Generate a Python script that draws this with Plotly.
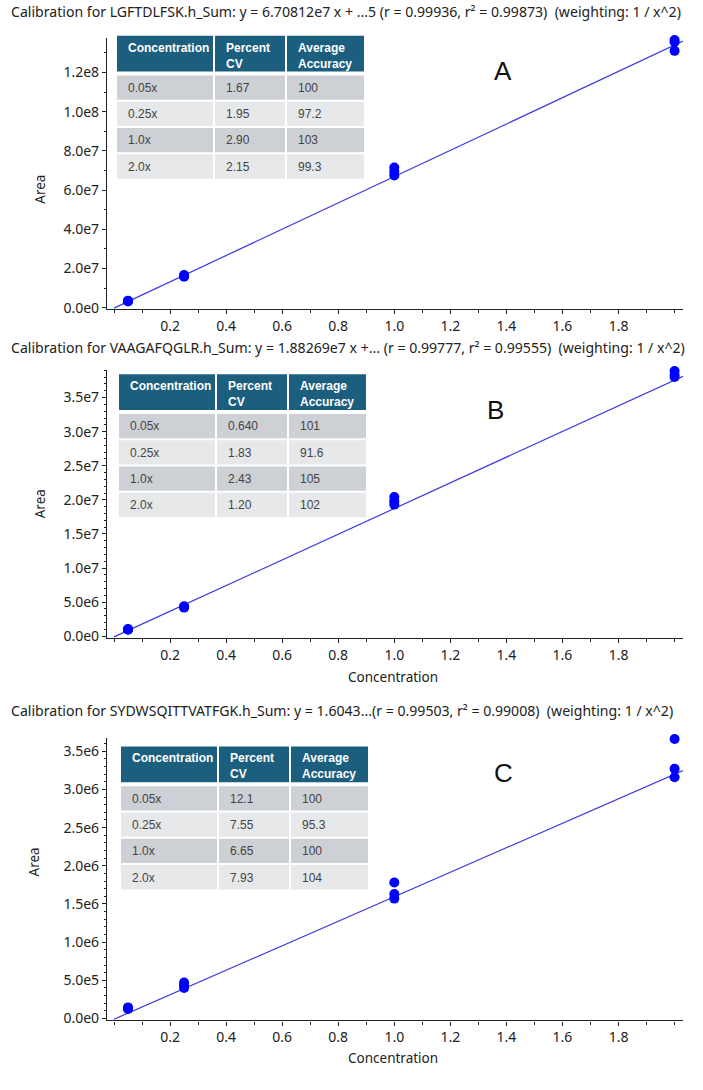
import plotly.graph_objects as go

W, H = 703, 1090

# ---- data ----
conc_levels = ["0.05x", "0.25x", "1.0x", "2.0x"]
x_pts = [0.05, 0.05, 0.05, 0.25, 0.25, 0.25, 1.0, 1.0, 1.0, 2.0, 2.0, 2.0]

area_a = [3.6e6, 3.4e6, 3.2e6, 1.67e7, 1.62e7, 1.58e7, 7.15e7, 6.95e7, 6.75e7, 1.365e8, 1.355e8, 1.31e8]
area_b = [1.05e6, 0.95e6, 1.0e6, 4.4e6, 4.2e6, 4.3e6, 2.04e7, 1.98e7, 1.93e7, 3.89e7, 3.83e7, 3.80e7]
area_c = [1.45e5, 1.3e5, 1.25e5, 4.7e5, 4.3e5, 4.0e5, 1.78e6, 1.63e6, 1.57e6, 3.66e6, 3.27e6, 3.16e6]

slope_a, icept_a = 6.70812e7, -2.0e5
slope_b, icept_b = 1.88269e7, -1.0e5
slope_c, icept_c = 1.6043e6, -1.0e4

cv_a = ["1.67", "1.95", "2.90", "2.15"]
acc_a = ["100", "97.2", "103", "99.3"]
cv_b = ["0.640", "1.83", "2.43", "1.20"]
acc_b = ["101", "91.6", "105", "102"]
cv_c = ["12.1", "7.55", "6.65", "7.93"]
acc_c = ["100", "95.3", "100", "104"]

table_head = ["Concentration", "Percent<br>CV", "Average<br>Accuracy"]

titles = [
    "Calibration for LGFTDLFSK.h_Sum: y = 6.70812e7 x + ...5 (r = 0.99936, r² = 0.99873) \u00a0(weighting: 1 / x^2)",
    "Calibration for VAAGAFQGLR.h_Sum: y = 1.88269e7 x +... (r = 0.99777, r² = 0.99555) \u00a0(weighting: 1 / x^2)",
    "Calibration for SYDWSQITTVATFGK.h_Sum: y = 1.6043...(r = 0.99503, r² = 0.99008) \u00a0(weighting: 1 / x^2)",
]
letters = ["A", "B", "C"]

y_ticks_a = [0, 2e7, 4e7, 6e7, 8e7, 1.0e8, 1.2e8]
y_ticks_b = [0, 5e6, 1.0e7, 1.5e7, 2.0e7, 2.5e7, 3.0e7, 3.5e7]
y_ticks_c = [0, 5e5, 1.0e6, 1.5e6, 2.0e6, 2.5e6, 3.0e6, 3.5e6]
x_ticks = [0.2, 0.4, 0.6, 0.8, 1.0, 1.2, 1.4, 1.6, 1.8]


def sci(v):
    if v == 0:
        return "0.0e0"
    m, e = ("%.1e" % v).split("e")
    return m + "e" + str(int(e))


def py(p):
    # pixel row -> paper y
    return 1 - p / H


def px(p):
    return p / W


LINE_COL = "#3a3ae0"
DOT_COL = "#0000ff"
UI_FONT = "Noto Sans, Open Sans, sans-serif"
TICK_FONT = dict(family=UI_FONT, size=14, color="#222")
TAB_FONT = "Liberation Sans, Arial, sans-serif"
HEAD_COL = "#1b5e7e"
ROW_COLS = ["#cdd0d4", "#e6e8ea"]
COL_W = [96, 70, 77]

panels = [
    dict(top=38, bottom=311, yr=[-0.5e6, 1.377e8], ticks=y_ticks_a, minor=1e7,
         area=area_a, slope=slope_a, icept=icept_a, cv=cv_a, acc=acc_a,
         title_y=12, table=(117, 36), letter=(503, 72), xtitle=None, area_x=29),
    dict(top=373, bottom=643, yr=[-0.3e6, 3.9e7], ticks=y_ticks_b, minor=1e6,
         area=area_b, slope=slope_b, icept=icept_b, cv=cv_b, acc=acc_b,
         title_y=350, table=(119, 377), letter=(495, 413), xtitle=682, area_x=29),
    dict(top=743, bottom=1028, yr=[-0.026e6, 3.68e6], ticks=y_ticks_c, minor=1e5,
         area=area_c, slope=slope_c, icept=icept_c, cv=cv_c, acc=acc_c,
         title_y=716, table=(121, 752), letter=(503, 779), xtitle=1066, area_x=23),
]

X_LEFT, X_RIGHT = 107, 683
x_range = [-0.025, 2.03]

fig = go.Figure()
annotations = []
shapes = []

for i, p in enumerate(panels):
    n = "" if i == 0 else str(i + 1)
    xa, ya = "x" + n, "y" + n

    fit_x = [0, x_range[1]]
    fit_y = [p["icept"] + p["slope"] * v for v in fit_x]
    fig.add_trace(go.Scatter(x=fit_x, y=fit_y, mode="lines",
                             line=dict(color=LINE_COL, width=1.2),
                             xaxis=xa, yaxis=ya, showlegend=False, hoverinfo="skip"))
    fig.add_trace(go.Scatter(x=x_pts, y=p["area"], mode="markers", cliponaxis=False,
                             marker=dict(color=DOT_COL, size=10),
                             xaxis=xa, yaxis=ya, showlegend=False))

    fig.update_layout(**{
        "xaxis" + n: dict(domain=[px(X_LEFT), px(X_RIGHT)], anchor=ya, range=x_range,
                          tickvals=x_ticks, ticktext=["%.1f" % v for v in x_ticks],
                          showline=True, linecolor="#222", linewidth=1.2,
                          ticks="outside", ticklen=4, tickcolor="#222",
                          minor=dict(dtick=0.1, tick0=0, ticks="outside", ticklen=3, tickcolor="#222"),
                          showgrid=False, zeroline=False, tickfont=TICK_FONT),
        "yaxis" + n: dict(domain=[py(p["bottom"]), py(p["top"])], anchor=xa, range=p["yr"],
                          tickvals=p["ticks"], ticktext=[sci(v) for v in p["ticks"]],
                          showline=True, linecolor="#222", linewidth=1.2,
                          ticks="outside", ticklen=4, tickcolor="#222",
                          minor=dict(dtick=p["minor"], tick0=0, ticks="outside", ticklen=2, tickcolor="#222"),
                          showgrid=False, zeroline=False, tickfont=TICK_FONT),
    })

    # table of CV / accuracy drawn as boxes + text
    tl, tt = p["table"]
    rows = [conc_levels, p["cv"], p["acc"]]
    x0 = tl
    for c, cw in enumerate(COL_W):
        shapes.append(dict(type="rect", xref="paper", yref="paper", layer="above",
                           x0=px(x0), x1=px(x0 + cw), y0=py(tt + 36), y1=py(tt),
                           fillcolor=HEAD_COL, line=dict(width=0)))
        annotations.append(dict(text="<b>" + table_head[c] + "</b>", x=px(x0 + 9), y=py(tt + 3),
                                xref="paper", yref="paper", xanchor="left", yanchor="top",
                                align="left", showarrow=False,
                                font=dict(family=TAB_FONT, size=12, color="white")))
        for r in range(4):
            r0 = tt + 40 + r * 26.5
            shapes.append(dict(type="rect", xref="paper", yref="paper", layer="above",
                               x0=px(x0), x1=px(x0 + cw), y0=py(r0 + 24.5), y1=py(r0),
                               fillcolor=ROW_COLS[r % 2], line=dict(width=0)))
            annotations.append(dict(text=rows[c][r], x=px(x0 + 9), y=py(r0 + 12.5),
                                    xref="paper", yref="paper", xanchor="left", yanchor="middle",
                                    showarrow=False,
                                    font=dict(family=TAB_FONT, size=12, color="#444")))
        x0 += cw + 2

    annotations.append(dict(text=titles[i], x=px(9), y=py(p["title_y"]), xref="paper", yref="paper",
                            xanchor="left", yanchor="middle", showarrow=False,
                            font=dict(family=UI_FONT, size=14.1, color="#222")))
    lx, ly = p["letter"]
    annotations.append(dict(text=letters[i], x=px(lx), y=py(ly), xref="paper", yref="paper",
                            xanchor="center", yanchor="middle", showarrow=False,
                            font=dict(family=TAB_FONT, size=26, color="#111")))
    annotations.append(dict(text="Area", x=px(p["area_x"]), y=py((p["top"] + p["bottom"]) / 2),
                            xref="paper", yref="paper", textangle=-90, showarrow=False,
                            font=dict(family=UI_FONT, size=13.5, color="#222")))
    if p["xtitle"]:
        annotations.append(dict(text="Concentration", x=px(393), y=py(p["xtitle"]),
                                xref="paper", yref="paper", yanchor="middle", showarrow=False,
                                font=dict(family=UI_FONT, size=13.5, color="#222")))

fig.update_layout(width=W, height=H, margin=dict(l=0, r=0, t=0, b=0),
                  paper_bgcolor="white", plot_bgcolor="white",
                  annotations=annotations, shapes=shapes, showlegend=False)

fig.write_html("out.html", config={"displayModeBar": False},
               post_script="document.body.style.margin='0';document.body.style.overflow='hidden';")
